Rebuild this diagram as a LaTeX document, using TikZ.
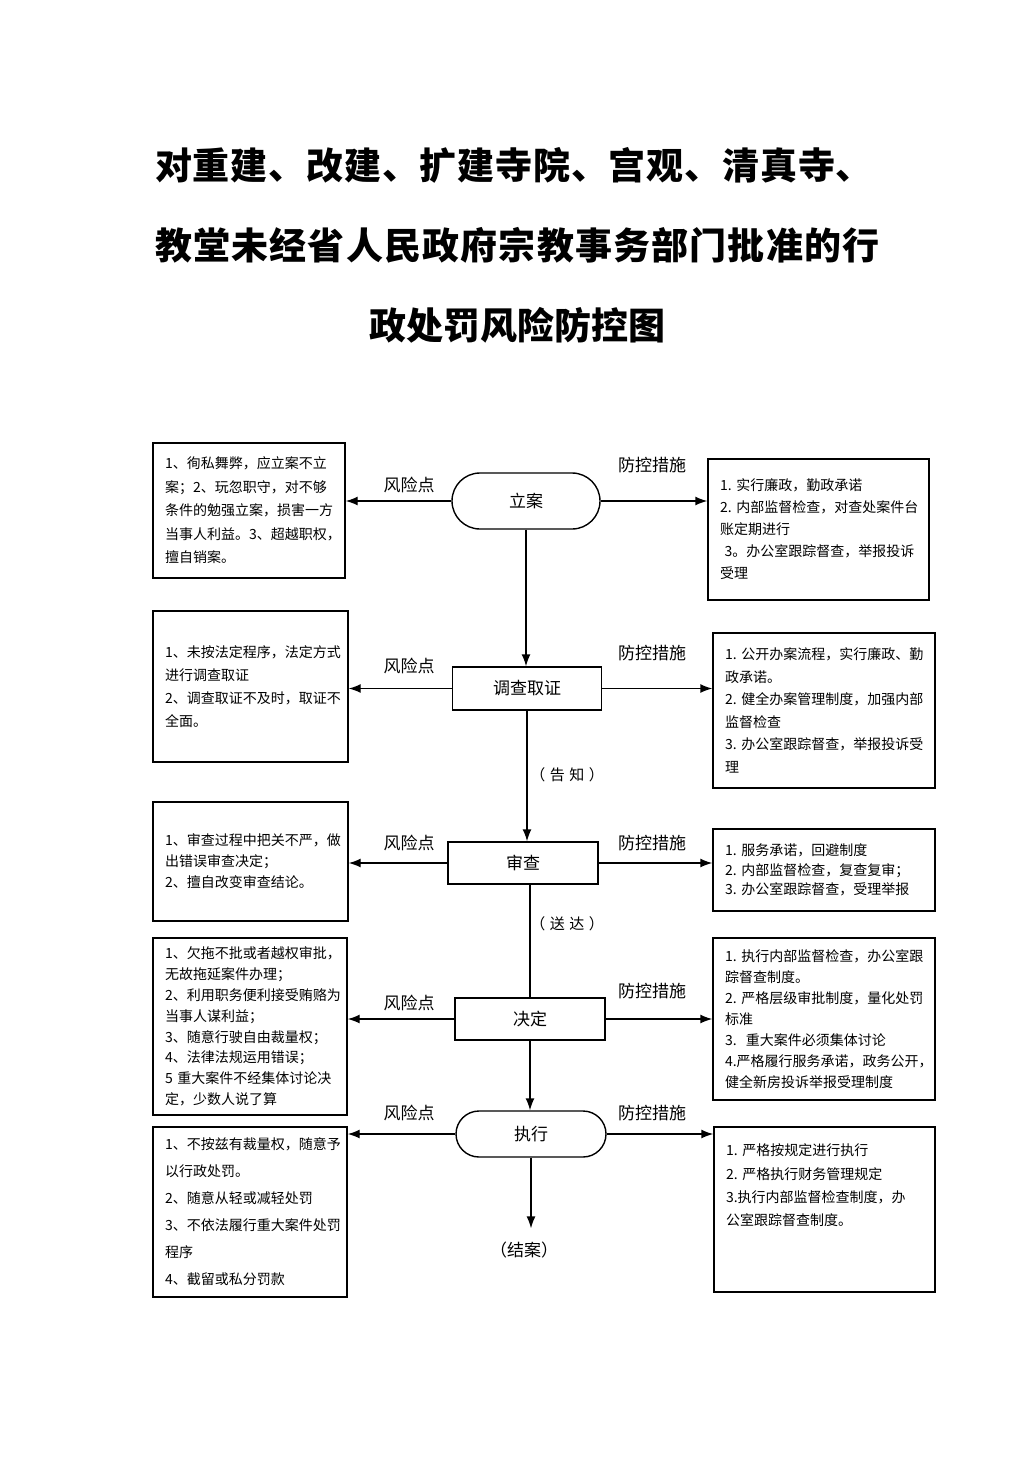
\documentclass[tikz,border=0pt]{standalone}
\usepackage{fontspec}
\usepackage{tikz}
\usetikzlibrary{arrows.meta}
\newfontfamily\cjk{Noto Sans CJK SC}

\begin{document}
\begin{tikzpicture}[x=1pt,y=-1pt,
    box/.style={draw,line width=1.4pt,align=left,inner xsep=12pt,
      font=\cjk\fontsize{14}{#1}\selectfont},
    box/.default=22,
    stage/.style={draw,line width=1.4pt,font=\cjk\fontsize{17}{20}\selectfont},
    tag/.style={font=\cjk\fontsize{17}{20}\selectfont},
    note/.style={font=\cjk\fontsize{15}{18}\selectfont\addfontfeature{LetterSpace=30}},
    headline/.style={inner sep=0pt,font=\cjk\bfseries\fontsize{37}{40}\selectfont},
    arr/.style={line width=1.4pt,-{Latex[length=12pt,width=9pt]}},
    link/.style={line width=1.4pt}]
    \useasboundingbox (0,0) rectangle (1033,1461);

    % title
    \node [headline,anchor=west] (title1) at (155,165) {\addfontfeature{LetterSpace=2.2}对重建、改建、扩建寺院、宫观、清真寺、};
    \node [headline,anchor=west] (title2) at (155,245) {\addfontfeature{LetterSpace=3.2}教堂未经省人民政府宗教事务部门批准的行};
    \node [headline] (title3) at (517,325) {政处罚风险防控图};

    % steps
    \node [stage,rounded corners=28pt,minimum width=148pt,minimum height=56pt] (lian) at (526,501) {立案};
    \node [stage,minimum width=149pt,minimum height=43pt] (diaocha) at (527,688.5) {调查取证};
    \node [stage,minimum width=150pt,minimum height=42pt] (shencha) at (523,863) {审查};
    \node [stage,minimum width=150pt,minimum height=42pt] (jueding) at (530,1019) {决定};
    \node [stage,rounded corners=23pt,minimum width=150pt,minimum height=46pt] (zhixing) at (531,1134) {执行};
    \node [tag] (jiean) at (524,1250) {（结案）};
    \node [note] (gaozhi) at (567,775) {（告知）};
    \node [note] (songda) at (567,924) {（送达）};

    % risk points
    \node [box=23.5,text width=168pt,minimum height=135pt] (risk1) at (249,510.5)
      {1、徇私舞弊，应立案不立\\案；2、玩忽职守，对不够\\条件的勉强立案，损害一方\\当事人利益。3、超越职权，\\擅自销案。};
    \node [box=23,text width=171pt,minimum height=151pt] (risk2) at (250.5,686.5)
      {1、未按法定程序，法定方式\\进行调查取证\\2、调查取证不及时，取证不\\全面。};
    \node [box=21,text width=171pt,minimum height=119pt] (risk3) at (250.5,861.5)
      {1、审查过程中把关不严，做\\出错误审查决定；\\2、擅自改变审查结论。};
    \node [box=20.8,text width=170pt,minimum height=177pt] (risk4) at (250,1026.5)
      {1、欠拖不批或者越权审批，\\无故拖延案件办理；\\2、利用职务便利接受贿赂为\\当事人谋利益；\\3、随意行驶自由裁量权；\\4、法律法规运用错误；\\5~重大案件不经集体讨论决\\定，少数人说了算};
    \node [box=27,text width=170pt,minimum height=170pt] (risk5) at (250,1212)
      {1、不按兹有裁量权，随意予\\以行政处罚。\\2、随意从轻或减轻处罚\\3、不依法履行重大案件处罚\\程序\\4、截留或私分罚款};

    % control measures
    \node [box=22,inner xsep=12pt,text width=197pt,minimum height=141pt] (ctrl1) at (818.5,529.5)
      {1.~实行廉政，勤政承诺\\2.~内部监督检查，对查处案件台\\账定期进行\\~3。办公室跟踪督查，举报投诉\\受理};
    \node [box=22.5,inner xsep=12pt,text width=198pt,minimum height=155pt] (ctrl2) at (824,710.5)
      {1.~公开办案流程，实行廉政、勤\\政承诺。\\2.~健全办案管理制度，加强内部\\监督检查\\3.~办公室跟踪督查，举报投诉受\\理};
    \node [box=19.5,inner xsep=12pt,text width=198pt,minimum height=82pt] (ctrl3) at (824,870)
      {1.~服务承诺，回避制度\\2.~内部监督检查，复查复审；\\3.~办公室跟踪督查，受理举报};
    \node [box=21,inner xsep=12pt,text width=198pt,minimum height=162pt] (ctrl4) at (824,1019)
      {1.~执行内部监督检查，办公室跟\\踪督查制度。\\2.~严格层级审批制度，量化处罚\\标准\\3.~~重大案件必须集体讨论\\4.严格履行服务承诺，政务公开，\\健全新房投诉举报受理制度};
    \node [box=23.3,inner xsep=12pt,text width=197pt,minimum height=165pt] (ctrl5) at (824.5,1209.5)
      {1.~严格按规定进行执行\\2.~严格执行财务管理规定\\3.执行内部监督检查制度，办\\公室跟踪督查制度。\\[26pt]\mbox{}};

    % labels
    \foreach \n/\y in {1/485,2/666,3/843,4/1003,5/1113}
    {   \node [tag] (fx\n) at (409,\y) {风险点};
    }
    \foreach \n/\y in {1/465,2/653,3/843,4/991,5/1113}
    {   \node [tag] (fk\n) at (652,\y) {防控措施};
    }

    % side arrows
    \foreach \s/\r/\c in {lian/risk1/ctrl1,diaocha/risk2/ctrl2,shencha/risk3/ctrl3,jueding/risk4/ctrl4,zhixing/risk5/ctrl5}
    {   \draw [arr] (\s.west) -- (\s.west -| \r.east);
        \draw [arr] (\s.east) -- (\s.east -| \c.west);
    }

    % main flow
    \draw [arr] (lian.south) -- (lian.south |- diaocha.north);
    \draw [arr] (diaocha.south) -- (diaocha.south |- shencha.north);
    \draw [link] (shencha.south -| jueding.north) -- (jueding.north);
    \draw [arr] (jueding.south) -- (jueding.south |- zhixing.north);
    \draw [arr,shorten >=10pt] (zhixing.south) -- (zhixing.south |- jiean.north);
\end{tikzpicture}
\end{document}
